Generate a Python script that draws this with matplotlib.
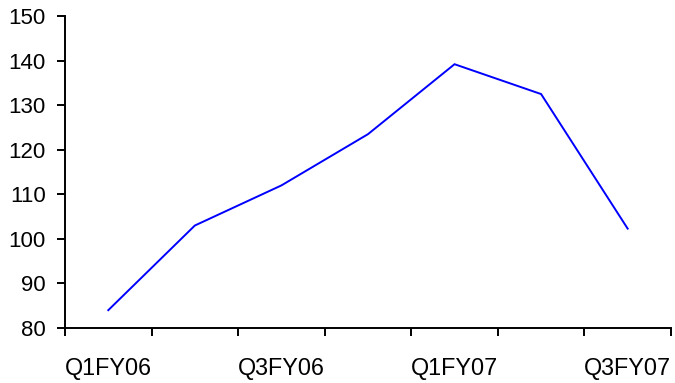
import matplotlib
matplotlib.use("Agg")
import matplotlib.pyplot as plt
import numpy as np

quarters = ["Q1FY06", "Q2FY06", "Q3FY06", "Q4FY06", "Q1FY07", "Q2FY07", "Q3FY07"]
values = [84.0, 103.0, 112.0, 123.5, 139.2, 132.5, 102.3]
label_every = 2

plt.rcParams["font.family"] = ["Liberation Sans", "DejaVu Sans"]

fig = plt.figure(figsize=(6.75, 3.83), dpi=100)
ax = fig.add_axes([0.0963, 0.1436, 0.8977, 0.8144])

x = np.arange(len(quarters))
ax.plot(x, values, color="#0000ff", linewidth=1.4, solid_joinstyle="miter")

ax.set_xlim(-0.5, len(quarters) - 0.5)
ax.set_ylim(80, 150)
ax.set_yticks(np.arange(80, 151, 10))

# tick marks sit on category boundaries, labels under every other category
ax.set_xticks(np.arange(-0.5, len(quarters), 1.0))
ax.set_xticklabels([])
ax.set_xticks(x[::label_every], minor=True)
ax.set_xticklabels(quarters[::label_every], minor=True)

ax.tick_params(axis="x", which="major", direction="out", length=6, width=1.4)
ax.tick_params(axis="x", which="minor", length=0, pad=21, labelsize=16.8)
ax.tick_params(axis="y", direction="out", length=6, width=1.4, pad=8, labelsize=16)

for side in ("top", "right"):
    ax.spines[side].set_visible(False)
for side in ("left", "bottom"):
    ax.spines[side].set_linewidth(1.4)

fig.savefig("out.png", dpi=100)
